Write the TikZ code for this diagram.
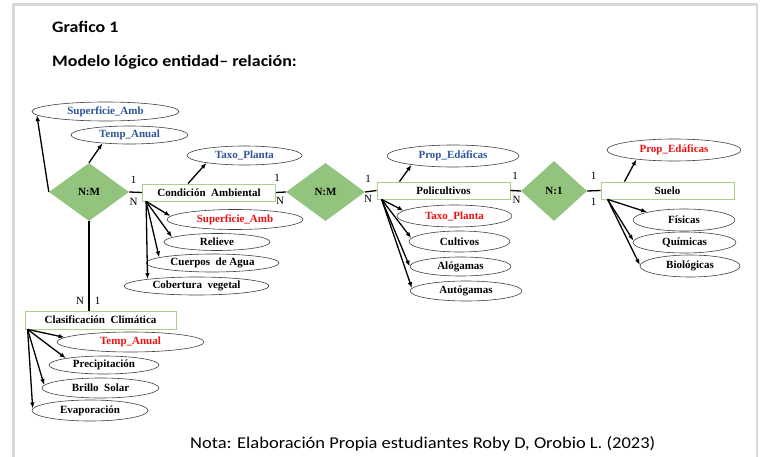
\documentclass[tikz,border=0pt]{standalone}
\usepackage{fontspec}
\setmainfont{Liberation Serif}
\newfontfamily\calib[FakeStretch=1.12]{Carlito}
\usetikzlibrary{shapes.geometric,arrows.meta,positioning}
\definecolor{relgreen}{HTML}{93C47D}
\definecolor{entgreen}{HTML}{A9D18E}
\definecolor{attblue}{HTML}{2F5597}
\definecolor{attred}{HTML}{EE1111}
\definecolor{framegray}{HTML}{D9D9D9}

\begin{document}
\begin{tikzpicture}[x=1pt, y=-1pt,
    ent/.style={draw=entgreen, line width=0.8pt, fill=white, minimum width=133pt, minimum height=17pt, inner sep=0pt, font=\fontsize{11}{12}\selectfont\bfseries},
    rel/.style={diamond, fill=relgreen, inner sep=0pt, font=\fontsize{11}{12}\selectfont\bfseries},
    attr/.style={ellipse, draw=black!75, line width=0.6pt, fill=white, inner sep=0pt, minimum height=20pt, font=\fontsize{11}{12}\selectfont\bfseries},
    card/.style={inner sep=0pt, font=\fontsize{11}{12}\selectfont},
    arr/.style={-{Latex[length=6pt,width=4.5pt]}, line width=1.3pt},
    link/.style={line width=1.3pt}]
    \useasboundingbox (0,0) rectangle (765,457);
    \draw[framegray, line width=2.5pt] (13.5,457) -- (13.5,4.5) -- (757,4.5) -- (757,457);

    % titulos
    \node[anchor=base west, inner sep=0pt, font=\calib\bfseries\fontsize{16}{18}\selectfont] (titulo) at (52,32.7) {Grafico 1};
    \node[anchor=base west, inner sep=0pt, font=\calib\bfseries\fontsize{16}{18}\selectfont] (subtitulo) at (52,66.5) {Modelo lógico entidad– relación:};
    \node[anchor=base west, inner sep=0pt, font=\calib\fontsize{16.5}{18}\selectfont] (nota) at (190,448.3) {Nota: Elaboración Propia estudiantes Roby D, Orobio L. (2023)};

    % relaciones y entidades
    \node[rel, minimum width=80pt, minimum height=58pt] (nmA) at (89,192) {N:M};
    \node[ent] (cond) at (209,192.5) {Condición\ \ Ambiental};
    \node[rel, minimum width=79pt, minimum height=58pt] (nmB) at (325.5,192) {N:M};
    \node[ent] (poli) at (443.5,190.5) {Policultivos};
    \node[rel, minimum width=66pt, minimum height=60pt] (nuno) at (554,191) {N:1};
    \node[ent] (suelo) at (667.5,190.5) {Suelo};
    \node[ent, minimum width=151pt, minimum height=18pt] (clas) at (100.5,320) {Clasificación\ \ Climática};

    % atributos
    \node[attr, text=attblue, minimum width=147pt, minimum height=19pt] (supB) at (105.5,111.5) {Superficie\_Amb};
    \node[attr, text=attblue, minimum width=117pt, minimum height=18pt] (tempB) at (129.5,135) {Temp\_Anual};
    \node[attr, text=attblue, minimum width=115pt, minimum height=19pt] (taxoB) at (244.5,155.5) {Taxo\_Planta};
    \node[attr, text=attred, minimum width=136pt] (supR) at (235,219.5) {Superficie\_Amb};
    \node[attr, minimum width=106pt, minimum height=17pt] (relieve) at (217,242) {Relieve};
    \node[attr, minimum width=133pt, minimum height=18pt] (cuerpos) at (212.5,263) {Cuerpos\ \ de Agua};
    \node[attr, minimum width=145pt, minimum height=18pt] (cobert) at (196.5,286) {Cobertura\ \ vegetal};

    \node[attr, text=attred, minimum width=147pt] (tempR) at (130.5,342) {Temp\_Anual};
    \node[attr, minimum width=110pt, minimum height=18pt] (precip) at (104,365) {Precipitación};
    \node[attr, minimum width=117pt] (brillo) at (100.5,388) {Brillo\ \ Solar};
    \node[attr, minimum width=116pt, minimum height=21pt] (evap) at (90,410.5) {Evaporación};

    \node[attr, text=attblue, minimum width=132pt, minimum height=22pt] (propB) at (453,156) {Prop\_Edáficas};
    \node[attr, text=attred, minimum width=115pt, minimum height=22pt] (taxoR) at (454.5,216) {Taxo\_Planta};
    \node[attr, minimum width=101pt, minimum height=21pt] (cultivos) at (459.5,241.5) {Cultivos};
    \node[attr, minimum width=101pt, minimum height=19pt] (alog) at (460.5,266.5) {Alógamas};
    \node[attr, minimum width=112pt] (autog) at (466,291) {Autógamas};

    \node[attr, text=attred, minimum width=134pt, minimum height=22pt] (propR) at (674,150) {Prop\_Edáficas};
    \node[attr, minimum width=102pt, minimum height=22pt] (fisicas) at (684,220) {Físicas};
    \node[attr, minimum width=103pt, minimum height=21pt] (quimicas) at (684.5,242.5) {Químicas};
    \node[attr, minimum width=100pt, minimum height=22pt] (biolog) at (690,266) {Biológicas};

    % cardinalidades
    \node[card] (kA) at (133.5,179.5) {1};
    \node[card] (kB) at (133.5,202) {N};
    \node[card] (kC) at (80,301) {N};
    \node[card] (kD) at (97.5,301) {1};
    \node[card] (kE) at (277,178) {1};
    \node[card] (kF) at (280,201) {N};
    \node[card] (kG) at (368,178.5) {1};
    \node[card] (kH) at (368,198.5) {N};
    \node[card] (kI) at (515,175.5) {1};
    \node[card] (kJ) at (516.5,200) {N};
    \node[card] (kK) at (593.5,175.5) {1};
    \node[card] (kL) at (593.5,202) {1};

    % uniones
    \draw[link] (nmA.east) -- (cond.west);
    \draw[link] (cond.east) -- (nmB.west);
    \draw[link] (nmB.east) -- (poli.west);
    \draw[link] (poli.east) -- (nuno.west);
    \draw[link] (nuno.east) -- (suelo.west);
    \draw[link] (nmA.south) -- (nmA.south |- clas.north);

    \draw[arr] (nmA.west) -- (supB.183);
    \draw[arr] (nmA.north) -- (tempB.197);
    \draw[arr] ([xshift=-21pt]cond.north) -- (taxoB.191);
    \draw[arr] ([xshift=-44pt]poli.north) -- (propB.192);
    \draw[arr] ([xshift=-43pt]suelo.north) -- (propR.194);

    \foreach \att/\ang in {supR/177, relieve/174, cuerpos/174, cobert/172}
        \draw[arr] ([xshift=4pt]cond.south west) -- (\att.\ang);
    \foreach \att/\ang in {tempR/176, precip/170, brillo/177, evap/178}
        \draw[arr] ([xshift=3pt]clas.south west) -- (\att.\ang);
    \foreach \att/\ang in {taxoR/174, cultivos/176, alog/180, autog/177}
        \draw[arr] ([xshift=5pt]poli.south west) -- (\att.\ang);
    \foreach \att/\ang in {fisicas/168, quimicas/178, biolog/179}
        \draw[arr] ([xshift=7pt]suelo.south west) -- (\att.\ang);
\end{tikzpicture}
\end{document}
